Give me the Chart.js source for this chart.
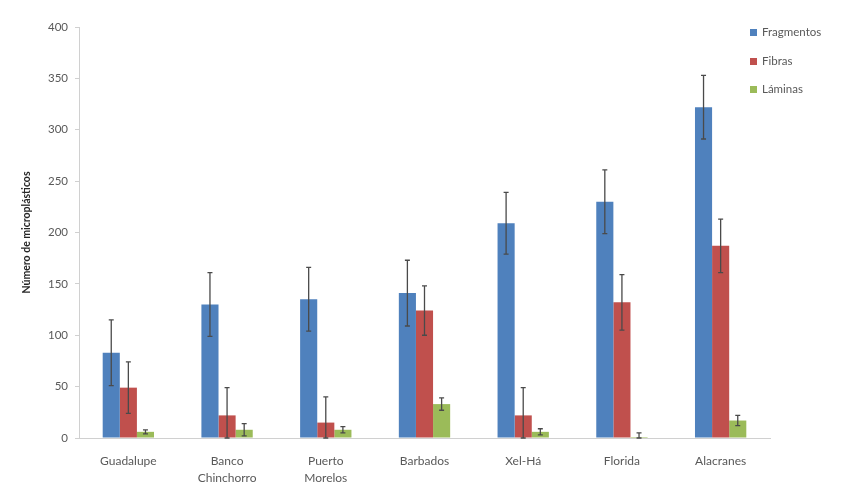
<!DOCTYPE html>
<html>
<head>
<meta charset="utf-8">
<script src="https://cdn.jsdelivr.net/npm/chart.js@4"></script>
<style>
  html, body { margin: 0; padding: 0; background: #fff; }
  #wrap { position: relative; width: 849px; height: 488px; }
  #legend { position: absolute; left: 750px; top: 25px; font-family: Lato, "Open Sans", sans-serif; font-size: 11.5px; color: #595959; }
  #legend div { height: 28.5px; display: flex; align-items: flex-start; }
  #legend span.box { display: inline-block; width: 7px; height: 7px; margin: 4px 5px 0 0; }
</style>
</head>
<body>
<div id="wrap">
  <canvas id="c" width="849" height="488"></canvas>
  <div id="legend"></div>
</div>
<script>
// Sites sampled
const sites = ["Guadalupe", ["Banco", "Chinchorro"], ["Puerto", "Morelos"], "Barbados", "Xel-Há", "Florida", "Alacranes"];

// Mean counts per microplastic type
const fragmentos = [83, 130, 135, 141, 209, 230, 322];
const fibras     = [49, 22, 15, 124, 22, 132, 187];
const laminas    = [6, 8, 8, 33, 6, 1, 17];

// Standard deviations (drawn as symmetric error bars)
const errFragmentos = [32, 31, 31, 32, 30, 31, 31];
const errFibras     = [25, 27, 25, 24, 27, 27, 26];
const errLaminas    = [2, 6, 3, 6, 3, 4, 5];

const yTicks = [0, 50, 100, 150, 200, 250, 300, 350, 400];

const seriesNames = ["Fragmentos", "Fibras", "Láminas"];
const seriesColors = ["#4F81BD", "#C0504D", "#9BBB59"];

const errorBars = {
  id: "errorBars",
  afterDatasetsDraw(chart) {
    const ctx = chart.ctx;
    const y = chart.scales.y;
    ctx.save();
    ctx.strokeStyle = "#4a4a4a";
    ctx.lineWidth = 1.3;
    chart.data.datasets.forEach((ds, di) => {
      const meta = chart.getDatasetMeta(di);
      meta.data.forEach((bar, i) => {
        const v = ds.data[i], e = ds.errors[i];
        const top = y.getPixelForValue(v + e);
        const bot = y.getPixelForValue(Math.max(0, v - e));
        ctx.beginPath();
        ctx.moveTo(bar.x, top); ctx.lineTo(bar.x, bot);
        ctx.moveTo(bar.x - 2.5, top); ctx.lineTo(bar.x + 2.5, top);
        ctx.moveTo(bar.x - 2.5, bot); ctx.lineTo(bar.x + 2.5, bot);
        ctx.stroke();
      });
    });
    ctx.restore();
  }
};

const fontFam = "Lato, 'Open Sans', sans-serif";

new Chart(document.getElementById("c"), {
  type: "bar",
  data: {
    labels: sites,
    datasets: [
      { label: seriesNames[0], data: fragmentos, errors: errFragmentos, backgroundColor: seriesColors[0] },
      { label: seriesNames[1], data: fibras, errors: errFibras, backgroundColor: seriesColors[1] },
      { label: seriesNames[2], data: laminas, errors: errLaminas, backgroundColor: seriesColors[2] }
    ]
  },
  options: {
    responsive: false,
    animation: false,
    layout: { padding: { left: 18, top: 27, right: 79, bottom: 0 } },
    datasets: { bar: { categoryPercentage: 0.52, barPercentage: 1.0 } },
    plugins: { legend: { display: false }, tooltip: { enabled: false } },
    scales: {
      x: {
        grid: { display: false, drawTicks: false },
        border: { color: "#d0d0d0", width: 1 },
        ticks: { color: "#595959", padding: 14, font: { family: fontFam, size: 12, lineHeight: 1.45 }, maxRotation: 0, autoSkip: false },
        afterFit(s) { s.height = 50; }
      },
      y: {
        min: 0, max: 400,
        afterBuildTicks(s) { s.ticks = yTicks.map(v => ({ value: v })); },
        grid: { display: true, drawOnChartArea: false, drawTicks: true, tickLength: 4, color: "#d0d0d0" },
        border: { color: "#d0d0d0", width: 1 },
        ticks: { color: "#595959", padding: 7, font: { family: fontFam, size: 11.5 } },
        title: { display: true, text: "Número de microplásticos", color: "#262626", font: { family: fontFam, size: 10.5, weight: "bold" }, padding: 2 },
        afterFit(s) { s.width = 61; }
      }
    }
  },
  plugins: [errorBars]
});

// Legend listing the three series
const lg = document.getElementById("legend");
seriesNames.forEach((n, i) => {
  const row = document.createElement("div");
  row.innerHTML = '<span class="box" style="background:' + seriesColors[i] + '"></span>' + n;
  lg.appendChild(row);
});
</script>
</body>
</html>
